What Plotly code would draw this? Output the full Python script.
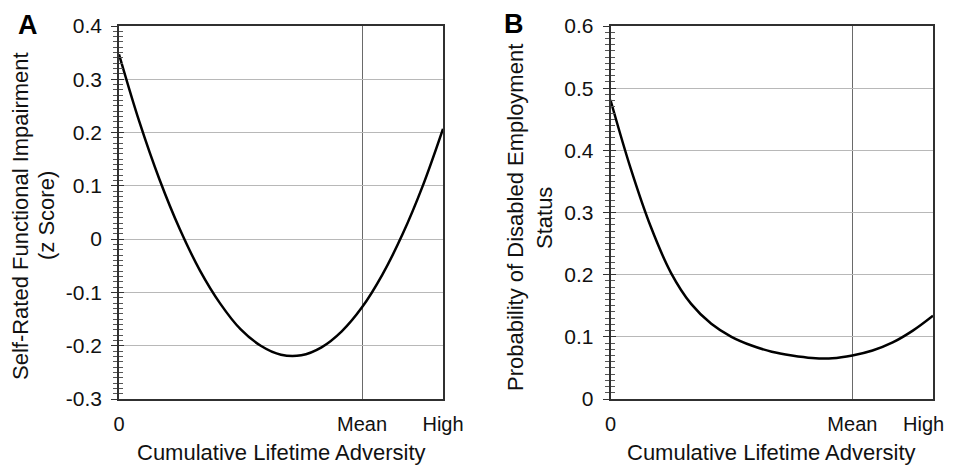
import plotly.graph_objects as go

# ---- data ----
adversity = [0, 0.25, 0.5, 0.75, 1.0, 1.25, 1.5, 1.75, 2.0, 2.25, 2.5, 2.75, 3.0, 3.25, 3.5, 3.75, 4.0]
impairment_z = [0.347, 0.221, 0.112, 0.019, -0.059, -0.121, -0.169, -0.200, -0.217, -0.218,
                -0.203, -0.173, -0.128, -0.067, 0.009, 0.100, 0.207]
prob_disabled = [0.481, 0.371, 0.277, 0.203, 0.153, 0.121, 0.100, 0.086, 0.076, 0.070,
                 0.066, 0.0655, 0.070, 0.078, 0.091, 0.110, 0.134]
x_tickvals = [0, 3, 4]
x_ticktext = ["0", "Mean", "High"]
yA_tickvals = [-0.3, -0.2, -0.1, 0, 0.1, 0.2, 0.3, 0.4]
yA_ticktext = ["-0.3", "-0.2", "-0.1", "0", "0.1", "0.2", "0.3", "0.4"]
yB_tickvals = [0, 0.1, 0.2, 0.3, 0.4, 0.5, 0.6]
yB_ticktext = ["0", "0.1", "0.2", "0.3", "0.4", "0.5", "0.6"]
yA_range = [-0.3, 0.4]
yB_range = [0, 0.6]

FONT = "Liberation Sans, Arial, sans-serif"
PAGE_OFF = 8            # default body margin of the html page
W, H = 955 - PAGE_OFF, 468 - PAGE_OFF

def px(x):
    return (x - PAGE_OFF) / W

def py(y):
    return 1 - (y - PAGE_OFF) / H

fig = go.Figure()
line = dict(color="black", width=2.5, shape="spline", smoothing=1.0)
fig.add_trace(go.Scatter(x=adversity, y=impairment_z, mode="lines", line=line,
                         xaxis="x", yaxis="y", showlegend=False, hoverinfo="skip"))
fig.add_trace(go.Scatter(x=adversity, y=prob_disabled, mode="lines", line=line,
                         xaxis="x2", yaxis="y2", showlegend=False, hoverinfo="skip"))
# empty traces so the overlay tick axes are drawn
fig.add_trace(go.Scatter(x=[None], y=[None], xaxis="x", yaxis="y3", showlegend=False))
fig.add_trace(go.Scatter(x=[None], y=[None], xaxis="x2", yaxis="y4", showlegend=False))

yd = [py(399), py(26)]
dA = [px(119), px(443)]
dB = [px(610.5), px(933)]
XFONT = dict(family=FONT, size=20, color="#111")

def xax(domain, anchor, ticktext):
    return dict(domain=domain, anchor=anchor, range=[0, 4], tickvals=x_tickvals, ticktext=ticktext,
                showgrid=True, gridcolor="#6a6a6a", gridwidth=1, zeroline=False,
                showline=True, linecolor="#303030", linewidth=1.5, mirror=True,
                ticks="", ticklabelstandoff=6, automargin=False, ticklabeloverflow="allow",
                tickfont=XFONT)

def yax(rng, tv, tt, anchor):
    return dict(domain=yd, anchor=anchor, range=rng, tickvals=tv, ticktext=tt,
                showgrid=True, gridcolor="#b8b8b8", gridwidth=1.2, zeroline=False,
                showline=True, linecolor="#303030", linewidth=1.5, mirror=True,
                ticks="outside", ticklen=6, tickcolor="#333", tickwidth=1,
                minor=dict(dtick=0.01, tick0=0, ticks="outside", ticklen=4, tickcolor="#555",
                           tickwidth=1, showgrid=False),
                ticklabelstandoff=5, automargin=False,
                tickfont=dict(family=FONT, size=21, color="#111"))

def yover(rng, tv, base, anchor):
    return dict(domain=yd, anchor=anchor, overlaying=base, range=rng, tickvals=tv,
                showgrid=False, zeroline=False, showline=False, showticklabels=False,
                ticks="inside", ticklen=5, tickcolor="#333", tickwidth=1, automargin=False,
                minor=dict(dtick=0.01, tick0=0, ticks="inside", ticklen=4, tickcolor="#555",
                           tickwidth=1, showgrid=False))

ann = []
tfont = dict(family=FONT, size=22, color="#111")
def a(text, x, y, angle=0, font=tfont):
    ann.append(dict(text=text, x=px(x), y=py(y), xref="paper", yref="paper", showarrow=False,
                    textangle=angle, font=font, xanchor="center", yanchor="middle"))

a("<b>A</b>", 28, 25, font=dict(family=FONT, size=27, color="black"))
a("<b>B</b>", 514, 24, font=dict(family=FONT, size=27, color="black"))
a("Self-Rated Functional Impairment", 20, 216, -90)
a("(z Score)", 46, 216, -90)
a("Probability of Disabled Employment", 515, 218, -90)
a("Status", 544, 218, -90)
a("Cumulative Lifetime Adversity", 281, 452)
a("Cumulative Lifetime Adversity", 771, 452)
# "High" label of panel B, nudged left so it stays inside the page
ann.append(dict(text=x_ticktext[2], x=x_tickvals[2], xref="x2", y=py(424), yref="paper",
                xanchor="right", yanchor="middle", xshift=13, showarrow=False, font=XFONT))

fig.update_layout(
    width=W, height=H, margin=dict(l=0, r=0, t=0, b=0),
    paper_bgcolor="white", plot_bgcolor="white",
    xaxis=xax(dA, "y", x_ticktext), yaxis=yax(yA_range, yA_tickvals, yA_ticktext, "x"),
    xaxis2=xax(dB, "y2", x_ticktext[:2] + [""]), yaxis2=yax(yB_range, yB_tickvals, yB_ticktext, "x2"),
    yaxis3=yover(yA_range, yA_tickvals, "y", "x"), yaxis4=yover(yB_range, yB_tickvals, "y2", "x2"),
    annotations=ann, font=dict(family=FONT),
)

fig.write_html("out.html")
